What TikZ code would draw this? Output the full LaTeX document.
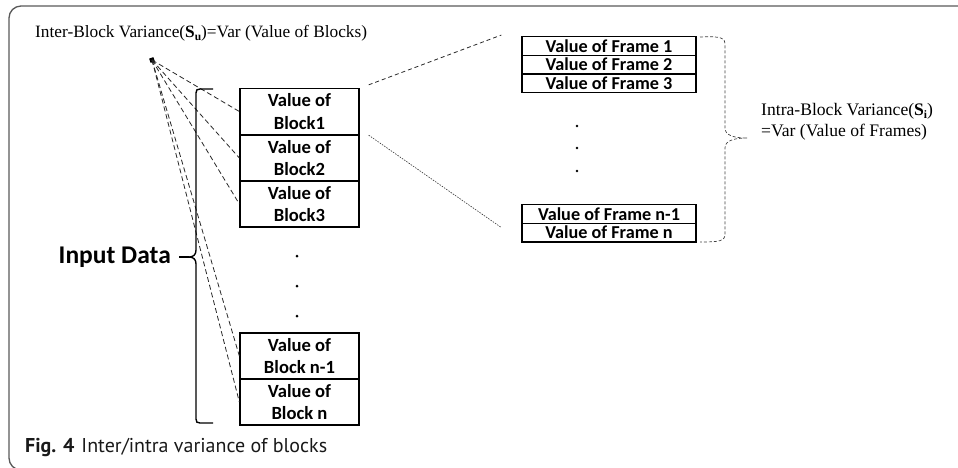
\documentclass[tikz,border=0pt]{standalone}
\usepackage{fontspec}
\setmainfont{Liberation Serif}
\newfontfamily\carfont{Carlito}
\newfontfamily\capfont{PT Sans}
\usetikzlibrary{calc}
\newcommand{\lowsub}[1]{\raisebox{-3pt}{\fontsize{11.5}{12}\selectfont\textbf{#1}}}
\begin{document}
\begin{tikzpicture}[x=1pt,y=-1pt,
  blockbox/.style={draw, line width=1.3pt, minimum width=119pt, minimum height=46pt, inner sep=0pt,
     align=center, font=\carfont\bfseries\fontsize{18.6}{22.5}\selectfont},
  framebox/.style={draw, line width=1.3pt, minimum width=174pt, minimum height=18.6pt, inner sep=0pt,
     font=\carfont\bfseries\fontsize{18.2}{18}\selectfont},
  link/.style={line width=0.8pt, dash pattern=on 5pt off 3pt, black!85},
  dotlink/.style={line width=0.6pt, dash pattern=on 1.5pt off 1.2pt, black!80},
  ddot/.style={circle, fill, inner sep=0pt, minimum size=3pt},
  serif/.style={font=\fontsize{17.3}{21}\selectfont}
]
\useasboundingbox (0,0) rectangle (958,467);
% outer frame
\draw[line width=1.3pt, black!65, rounded corners=12pt] (960,6) -- (9,6) -- (9,470) -- (40,470);

% title
\node[serif, anchor=west, inner sep=0pt] (title) at (35,33) {Inter-Block Variance(\textbf{S}\lowsub{u})=Var (Value of Blocks)};

% apex
\node[fill, minimum size=4.5pt, inner sep=0pt, rotate=20] (apex) at (152,60) {};

% blocks
\node[blockbox] (b1) at (299.5,111.5) {Value of\\Block1};
\node[blockbox] (b2) at (299.5,158) {Value of\\Block2};
\node[blockbox] (b3) at (299.5,204) {Value of\\Block3};
\node[blockbox] (bn1) at (299.5,356) {Value of\\Block n-1};
\node[blockbox] (bn) at (299.5,402) {Value of\\Block n};
\node[ddot] (d1) at (297,256) {};
\node[ddot] (d2) at (297,286) {};
\node[ddot] (d3) at (297,316) {};

% connectors from apex
\foreach \b in {b1,b2,b3,bn1,bn}{\draw[link] (apex.center) -- (\b.west);}

% left bracket
\node[anchor=east, inner sep=0pt, font=\carfont\bfseries\fontsize{25.5}{28}\selectfont] (input) at (171,257) {Input Data};
\coordinate (btip) at (189,257);
\draw[line width=1.4pt] (213,89) -- (200,89) .. controls (197,89) and (196,90) .. (196,93)
   -- (196,250) .. controls (196,255) and (193,257) .. (btip)
   .. controls (193,257) and (196,259) .. (196,264)
   -- (196,419) .. controls (196,422) and (197,423) .. (200,423) -- (213,423);
\draw[line width=1.4pt] (input.east) ++(8,0) -- (btip);

% frames
\node[framebox] (f1) at (609,46) {Value of Frame 1};
\node[framebox] (f2) at (609,64.6) {Value of Frame 2};
\node[framebox] (f3) at (609,83.2) {Value of Frame 3};
\node[framebox] (fn1) at (609,214) {Value of Frame n-1};
\node[framebox] (fn) at (609,232.6) {Value of Frame n};
\node[ddot, minimum size=2.8pt] (e1) at (577,126) {};
\node[ddot, minimum size=2.8pt] (e2) at (577,148) {};
\node[ddot, minimum size=2.8pt] (e3) at (577,171) {};

% zoom connectors
\coordinate (za) at ($(b1.north east)+(9,-3)$);
\coordinate (zb) at ($(f1.north west)+(-20,-1)$);
\coordinate (zc) at ($(b1.south east)+(9,0)$);
\coordinate (zd) at ($(fn.south west)+(-20,-15)$);
\draw[link, dash pattern=on 4pt off 3pt] (za) -- (zb);
\draw[dotlink] (zc) -- (zd);

% right dashed brace
\coordinate (rtip) at (747,138);
\draw[line width=0.7pt, black!75, dash pattern=on 3pt off 2pt]
  (700,37) .. controls (722,36) and (725,38) .. (725,45)
  -- (725,128) .. controls (725,135) and (733,138) .. (rtip)
  (rtip) .. controls (733,138) and (725,141) .. (725,148)
  -- (725,234) .. controls (725,241) and (720,242) .. (700,242);

% intra text
\node[font=\fontsize{17.6}{21}\selectfont, anchor=west, align=left, inner sep=0pt] (intra) at (761,121.5)
  {Intra-Block Variance(\textbf{S}\lowsub{i})\\=Var (Value of Frames)};

% caption
\node[anchor=west, inner sep=0pt, font=\capfont\fontsize{20}{22}\selectfont, text=black!90] (cap) at (25,447)
  {\textbf{Fig. 4}\hspace{7pt}Inter/intra variance of blocks};
\end{tikzpicture}
\end{document}
